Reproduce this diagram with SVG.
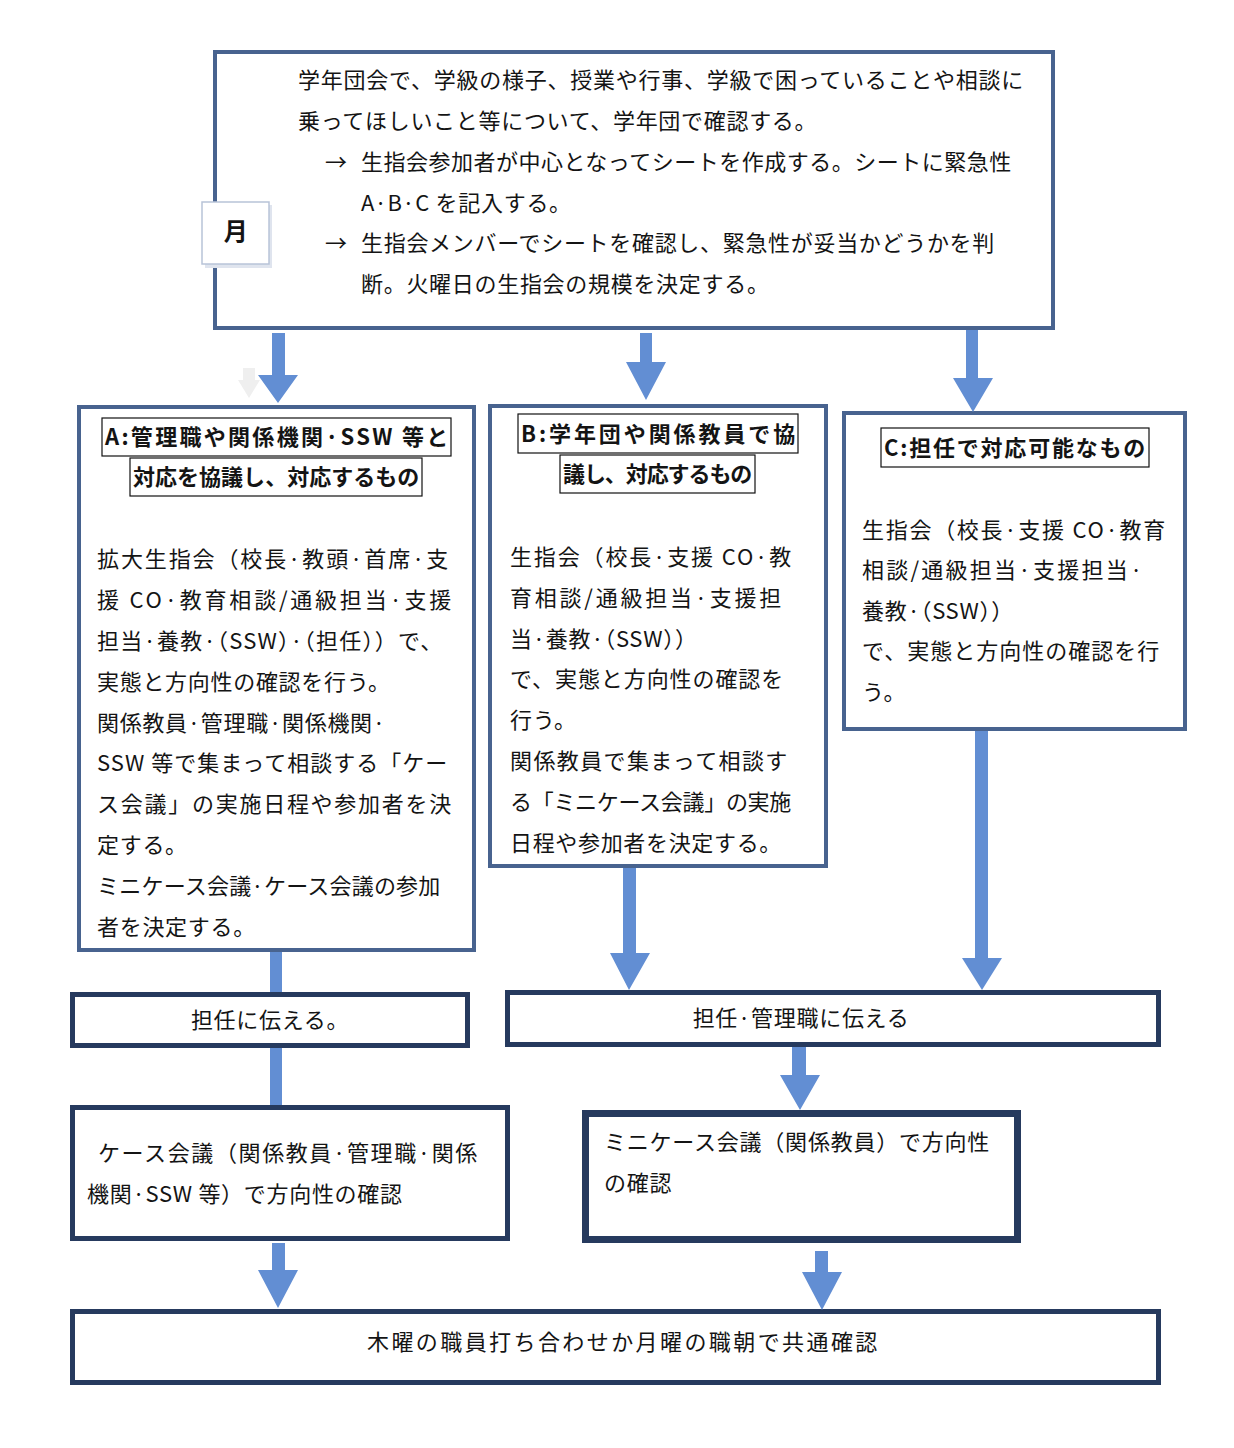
<svg xmlns="http://www.w3.org/2000/svg" width="1234" height="1448" viewBox="0 0 1234 1448">
<style>
.t{font-family:"Noto Sans CJK JP","Noto Sans CJK SC",sans-serif;font-size:22px;fill:#141414;letter-spacing:0.7px}
.b{font-weight:bold}
.box{fill:#fff;stroke:#48638f;stroke-width:4}
.dbox{fill:#fff;stroke:#263a5e;stroke-width:5}
.lbl{fill:#fff;stroke:#111;stroke-width:1.2}
.arr{fill:#628ed3}
</style>
<rect width="1234" height="1448" fill="#fff"/>

<g id="top">
<rect class="box" x="215" y="52" width="838" height="276"/>
<text class="t" x="298" y="88" textLength="726" lengthAdjust="spacing">学年団会で、学級の様子、授業や行事、学級で困っていることや相談に</text>
<text class="t" x="298" y="129">乗ってほしいこと等について、学年団で確認する。</text>
<text class="t" x="325" y="170">→</text>
<text class="t" x="361" y="170" textLength="651" lengthAdjust="spacing">生指会参加者が中心となってシートを作成する。シートに緊急性</text>
<text class="t" x="361" y="211">A·B·C を記入する。</text>
<text class="t" x="325" y="251">→</text>
<text class="t" x="361" y="251" textLength="634" lengthAdjust="spacing">生指会メンバーでシートを確認し、緊急性が妥当かどうかを判</text>
<text class="t" x="361" y="292">断。火曜日の生指会の規模を決定する。</text>
</g>

<g id="mon">
<rect x="205" y="205" width="67" height="63" fill="#dfe4ee"/>
<rect x="202" y="202" width="67" height="62" fill="#fff" stroke="#b8c3d8" stroke-width="1.5"/>
<text class="t b" x="236" y="240" font-size="24" text-anchor="middle" style="font-size:24px">月</text>
</g>

<g id="boxA">
<rect class="box" x="79" y="407" width="395" height="543"/>
<rect class="lbl" x="102" y="418" width="349" height="38"/>
<rect class="lbl" x="130" y="458" width="292" height="38"/>
<text class="t b" x="105" y="445" textLength="344" lengthAdjust="spacing">A:管理職や関係機関·SSW 等と</text>
<text class="t b" x="133" y="485" textLength="287" lengthAdjust="spacing">対応を協議し、対応するもの</text>
<text class="t" x="97" y="567" textLength="352" lengthAdjust="spacing">拡大生指会（校長·教頭·首席·支</text>
<text class="t" x="97" y="608" textLength="355" lengthAdjust="spacing">援 CO·教育相談/通級担当·支援</text>
<text class="t" x="97" y="649" textLength="346" lengthAdjust="spacing">担当·養教·（SSW）·（担任））で、</text>
<text class="t" x="97" y="690">実態と方向性の確認を行う。</text>
<text class="t" x="97" y="731">関係教員·管理職·関係機関·</text>
<text class="t" x="97" y="771" textLength="351" lengthAdjust="spacing">SSW 等で集まって相談する「ケー</text>
<text class="t" x="97" y="812" textLength="355" lengthAdjust="spacing">ス会議」の実施日程や参加者を決</text>
<text class="t" x="97" y="853">定する。</text>
<text class="t" x="97" y="894" textLength="344" lengthAdjust="spacing">ミニケース会議·ケース会議の参加</text>
<text class="t" x="97" y="935">者を決定する。</text>
</g>

<g id="boxB">
<rect class="box" x="490" y="406" width="336" height="460"/>
<rect class="lbl" x="518" y="414" width="280" height="39"/>
<rect class="lbl" x="560" y="455" width="195" height="38"/>
<text class="t b" x="521" y="442" textLength="275" lengthAdjust="spacing">B:学年団や関係教員で協</text>
<text class="t b" x="563" y="482" textLength="190" lengthAdjust="spacing">議し、対応するもの</text>
<text class="t" x="510" y="565" textLength="282" lengthAdjust="spacing">生指会（校長·支援 CO·教</text>
<text class="t" x="510" y="606" textLength="272" lengthAdjust="spacing">育相談/通級担当·支援担</text>
<text class="t" x="510" y="647">当·養教·（SSW））</text>
<text class="t" x="510" y="687" textLength="274" lengthAdjust="spacing">で、実態と方向性の確認を</text>
<text class="t" x="510" y="728">行う。</text>
<text class="t" x="510" y="769" textLength="278" lengthAdjust="spacing">関係教員で集まって相談す</text>
<text class="t" x="510" y="810" textLength="282" lengthAdjust="spacing">る「ミニケース会議」の実施</text>
<text class="t" x="510" y="851" textLength="272" lengthAdjust="spacing">日程や参加者を決定する。</text>
</g>

<g id="boxC">
<rect class="box" x="844" y="413" width="341" height="316"/>
<rect class="lbl" x="881" y="428" width="268" height="39"/>
<text class="t b" x="884" y="456" textLength="262" lengthAdjust="spacing">C:担任で対応可能なもの</text>
<text class="t" x="862" y="538" textLength="304" lengthAdjust="spacing">生指会（校長·支援 CO·教育</text>
<text class="t" x="862" y="578" textLength="281" lengthAdjust="spacing">相談/通級担当·支援担当·</text>
<text class="t" x="862" y="619">養教·（SSW））</text>
<text class="t" x="862" y="659" textLength="298" lengthAdjust="spacing">で、実態と方向性の確認を行</text>
<text class="t" x="862" y="700">う。</text>
</g>

<g id="tellA">
<rect class="dbox" x="72.5" y="994.5" width="395" height="51"/>
<text class="t" x="270" y="1028" text-anchor="middle">担任に伝える。</text>
</g>

<g id="tellBC">
<rect class="dbox" x="507.5" y="992.5" width="651" height="52"/>
<text class="t" x="801" y="1026" text-anchor="middle">担任·管理職に伝える</text>
</g>

<g id="case">
<rect class="dbox" x="72.5" y="1107.5" width="435" height="131"/>
<text class="t" x="98" y="1161" textLength="380" lengthAdjust="spacing">ケース会議（関係教員·管理職·関係</text>
<text class="t" x="87" y="1202">機関·SSW 等）で方向性の確認</text>
</g>

<g id="mini">
<rect x="585.5" y="1113.5" width="432" height="126" fill="#fff" stroke="#263a5e" stroke-width="7"/>
<text class="t" x="604" y="1150" textLength="386" lengthAdjust="spacing">ミニケース会議（関係教員）で方向性</text>
<text class="t" x="604" y="1191">の確認</text>
</g>

<g id="final">
<rect class="dbox" x="72.5" y="1311.5" width="1086" height="71"/>
<text class="t" x="367" y="1350" textLength="511" lengthAdjust="spacing">木曜の職員打ち合わせか月曜の職朝で共通確認</text>
</g>

<g id="connectors">
<polygon points="243,368 255,368 255,380 260,380 249,398 238,380 243,380" fill="#efefef"/>
<polygon class="arr" points="272,333 285,333 285,375 298,375 278,403 258,375 272,375"/>
<polygon class="arr" points="640,333 652,333 652,362 666,362 646,400 626,362 640,362"/>
<polygon class="arr" points="966,330 978,330 978,378 993,378 973,412 953,378 966,378"/>
<rect class="arr" x="270" y="952" width="12" height="40"/>
<polygon class="arr" points="623,868 636,868 636,953 650,953 629,990 610,953 623,953"/>
<polygon class="arr" points="975,731 988,731 988,958 1002,958 982,990 962,958 975,958"/>
<rect class="arr" x="270" y="1048" width="12" height="57"/>
<polygon class="arr" points="792,1047 806,1047 806,1075 820,1075 800,1110 780,1075 792,1075"/>
<polygon class="arr" points="272,1243 285,1243 285,1270 298,1270 278,1308 258,1270 272,1270"/>
<polygon class="arr" points="815,1251 828,1251 828,1272 842,1272 822,1310 802,1272 815,1272"/>
</g>
</svg>
